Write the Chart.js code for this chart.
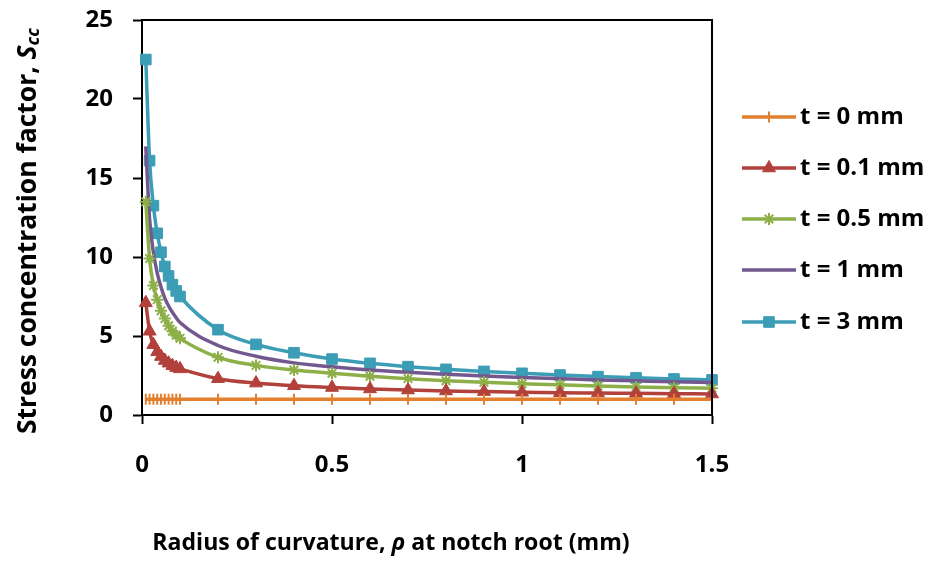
<!DOCTYPE html>
<html>
<head>
<meta charset="utf-8">
<script src="https://cdn.jsdelivr.net/npm/chart.js@4.4.1/dist/chart.umd.min.js"></script>
<style>
  html, body { margin: 0; padding: 0; background: #fff; }
  #wrap { width: 933px; height: 562px; position: relative; }
</style>
</head>
<body>
<div id="wrap"><canvas id="scc"></canvas></div>
<script>
// radius of curvature (mm)
var rho = [0.01, 0.02, 0.03, 0.04, 0.05, 0.06, 0.07, 0.08, 0.09, 0.1,
           0.2, 0.3, 0.4, 0.5, 0.6, 0.7, 0.8, 0.9, 1.0, 1.1, 1.2, 1.3, 1.4, 1.5];

// stress concentration factor for each coating thickness t
var t0  = [1, 1, 1, 1, 1, 1, 1, 1, 1, 1,
           1, 1, 1, 1, 1, 1, 1, 1, 1, 1, 1, 1, 1, 1];
var t01 = [7.1, 5.3, 4.45, 4.0, 3.7, 3.45, 3.28, 3.12, 3.0, 2.92,
           2.3, 2.02, 1.85, 1.74, 1.65, 1.58, 1.52, 1.48, 1.44, 1.41, 1.39, 1.37, 1.35, 1.33];
var t05 = [13.5, 9.9, 8.2, 7.3, 6.6, 6.1, 5.65, 5.3, 5.05, 4.85,
           3.65, 3.14, 2.85, 2.64, 2.45, 2.3, 2.17, 2.07, 1.98, 1.91, 1.84, 1.78, 1.73, 1.69];
var t1  = [17.0, 12.4, 10.3, 9.0, 8.1, 7.4, 6.9, 6.5, 6.15, 5.85,
           4.4, 3.72, 3.3, 3.05, 2.85, 2.7, 2.58, 2.47, 2.38, 2.3, 2.22, 2.16, 2.1, 2.06];
var t3  = [22.5, 16.1, 13.25, 11.5, 10.3, 9.4, 8.8, 8.25, 7.85, 7.5,
           5.4, 4.47, 3.94, 3.54, 3.27, 3.06, 2.89, 2.76, 2.64, 2.53, 2.43, 2.35, 2.28, 2.22];

var names = ["t = 0 mm", "t = 0.1 mm", "t = 0.5 mm", "t = 1 mm", "t = 3 mm"];

var FONT = "'Open Sans', 'DejaVu Sans', sans-serif";

function pts(vals) {
	var out = [];
	for (var i in rho) {
		out.push({x: rho[i], y: vals[i]});
	}
	return out;
}

function series(label, vals, color, style, radius, rot) {
	return {
		label: label,
		data: pts(vals),
		borderColor: color,
		backgroundColor: color,
		pointBackgroundColor: color,
		pointBorderColor: color,
		pointStyle: style,
		pointRadius: radius,
		pointRotation: rot || 0,
		pointBorderWidth: style === "line" || style === "star" ? 2 : 1,
		borderWidth: 3.5,
		showLine: true,
		cubicInterpolationMode: "monotone",
		clip: false
	};
}

var datasets = [
	series(names[0], t0, "#E2802F", "line", 5.5, 90),
	series(names[1], t01, "#B2403B", "triangle", 7.5),
	series(names[2], t05, "#8DAF48", "star", 6),
	series(names[3], t1, "#72588F", false, 0),
	series(names[4], t3, "#3C9DB6", "rect", 7.5)
];

// font size that makes the text about as wide as w
function fitSize(ctx, text, w, style) {
	ctx.font = style + " 20px " + FONT;
	return 20 * w / ctx.measureText(text).width;
}

// frame, axis titles and legend
var decor = {
	id: "decor",
	afterDraw: function(chart) {
		var ctx = chart.ctx;
		var a = chart.chartArea;
		ctx.save();
		ctx.strokeStyle = "#000";
		ctx.lineWidth = 2;
		ctx.beginPath();
		ctx.moveTo(a.left, a.top);
		ctx.lineTo(a.right, a.top);
		ctx.lineTo(a.right, a.bottom);
		ctx.stroke();

		ctx.fillStyle = "#000";
		ctx.textBaseline = "middle";
		ctx.textAlign = "left";

		// x axis title
		var xa = "Radius of curvature, ";
		var xb = "\u03C1";
		var xc = " at notch root (mm)";
		var fx = fitSize(ctx, xa + xb + xc, 478, "bold");
		ctx.font = "bold " + fx + "px " + FONT;
		var w1 = ctx.measureText(xa).width;
		var w3 = ctx.measureText(xc).width;
		ctx.font = "italic bold " + fx + "px " + FONT;
		var w2 = ctx.measureText(xb).width;
		var x0 = 391 - (w1 + w2 + w3) / 2;
		ctx.font = "bold " + fx + "px " + FONT;
		ctx.fillText(xa, x0, 543);
		ctx.font = "italic bold " + fx + "px " + FONT;
		ctx.fillText(xb, x0 + w1, 543);
		ctx.font = "bold " + fx + "px " + FONT;
		ctx.fillText(xc, x0 + w1 + w2, 543);

		// y axis title, rotated, with subscript
		var ya = "Stress concentration factor, ";
		var fy = fitSize(ctx, ya + "Sc", 403, "bold");
		var fs = Math.round(fy * 0.68);
		ctx.font = "bold " + fy + "px " + FONT;
		var v1 = ctx.measureText(ya).width;
		ctx.font = "italic bold " + fy + "px " + FONT;
		var v2 = ctx.measureText("S").width;
		ctx.font = "italic bold " + fs + "px " + FONT;
		var v3 = ctx.measureText("cc").width;
		ctx.translate(28, 231);
		ctx.rotate(-Math.PI / 2);
		var y0 = -(v1 + v2 + v3) / 2;
		ctx.font = "bold " + fy + "px " + FONT;
		ctx.fillText(ya, y0, 0);
		ctx.font = "italic bold " + fy + "px " + FONT;
		ctx.fillText("S", y0 + v1, 0);
		ctx.font = "italic bold " + fs + "px " + FONT;
		ctx.fillText("cc", y0 + v1 + v2, 6);
		ctx.setTransform(1, 0, 0, 1, 0, 0);

		// legend
		var rows = [117, 168, 219, 270, 322];
		for (var i = 0; i < datasets.length; i++) {
			var d = datasets[i];
			var yy = rows[i];
			ctx.strokeStyle = d.borderColor;
			ctx.lineWidth = 3.5;
			ctx.beginPath();
			ctx.moveTo(742, yy);
			ctx.lineTo(796, yy);
			ctx.stroke();
			if (d.pointStyle) {
				ctx.fillStyle = d.borderColor;
				ctx.strokeStyle = d.borderColor;
				ctx.lineWidth = d.pointBorderWidth;
				Chart.helpers.drawPoint(ctx, {
					pointStyle: d.pointStyle,
					radius: d.pointRadius,
					rotation: d.pointRotation,
					borderWidth: d.pointBorderWidth
				}, 769, yy);
			}
			ctx.fillStyle = "#000";
			ctx.font = "bold 24px " + FONT;
			ctx.fillText(d.label, 800, yy);
		}
		ctx.restore();
	}
};

var ctx = document.getElementById("scc");
var chart = new Chart(ctx, {
	type: "scatter",
	data: { datasets: datasets },
	options: {
		responsive: true,
		maintainAspectRatio: false,
		animation: false,
		layout: { padding: { top: 20, right: 221, left: 0, bottom: 0 } },
		plugins: {
			legend: { display: false },
			tooltip: { enabled: false }
		},
		scales: {
			x: {
				type: "linear",
				min: 0,
				max: 1.5,
				afterFit: function(s) { s.height = 147; },
				ticks: {
					stepSize: 0.5,
					color: "#000",
					padding: 27,
					font: { family: FONT, size: 24, weight: "bold" },
					callback: function(v) { return String(v); }
				},
				grid: { drawOnChartArea: false, tickLength: 9, tickColor: "#000", tickWidth: 2 },
				border: { color: "#000", width: 2 }
			},
			y: {
				min: 0,
				max: 25,
				afterFit: function(s) {
					s.width = 142;
					s.paddingTop = 0;
					s.paddingBottom = 0;
				},
				ticks: {
					stepSize: 5,
					color: "#000",
					padding: 20,
					font: { family: FONT, size: 24, weight: "bold" }
				},
				grid: { drawOnChartArea: false, tickLength: 9, tickColor: "#000", tickWidth: 2 },
				border: { color: "#000", width: 2 }
			}
		}
	},
	plugins: [decor]
});
</script>
</body>
</html>
